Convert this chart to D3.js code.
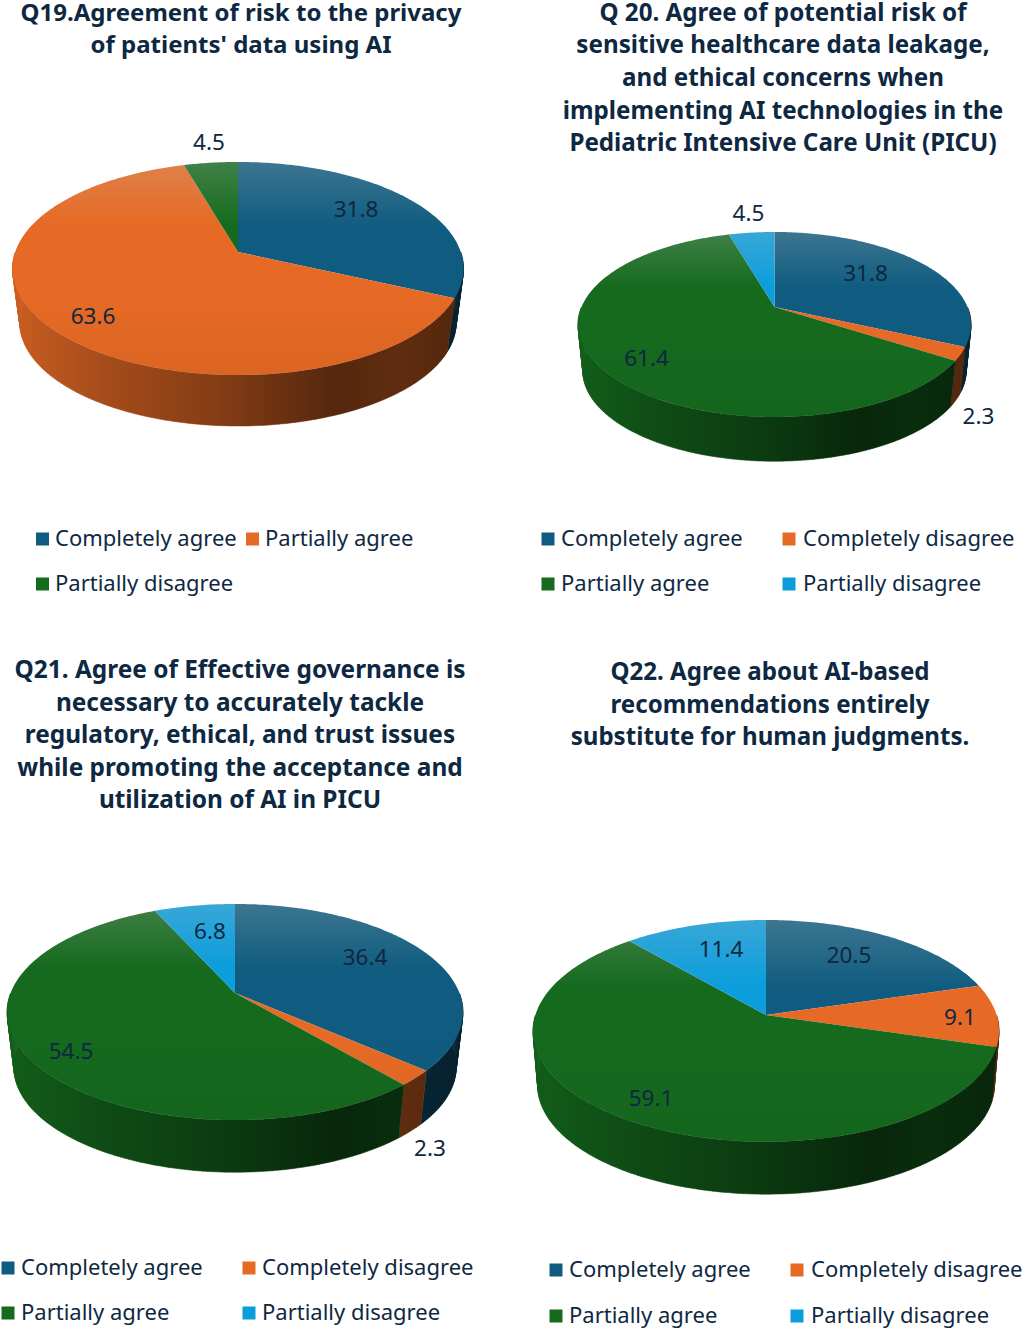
<!DOCTYPE html>
<html><head><meta charset="utf-8">
<script src="https://d3js.org/d3.v7.min.js"></script>
<style>html,body{margin:0;padding:0;background:#fff}svg{display:block}
text{font-family:"Noto Sans",sans-serif}</style></head><body>
<svg id="c" width="1026" height="1329"></svg>
<script>
// ---- data ----
const q19Categories = ["Completely agree","Partially agree","Partially disagree"];
const q19Values = [31.8,63.6,4.5];
const q20Categories = ["Completely agree","Completely disagree","Partially agree","Partially disagree"];
const q20Values = [31.8,2.3,61.4,4.5];
const q21Categories = ["Completely agree","Completely disagree","Partially agree","Partially disagree"];
const q21Values = [36.4,2.3,54.5,6.8];
const q22Categories = ["Completely agree","Completely disagree","Partially agree","Partially disagree"];
const q22Values = [20.5,9.1,59.1,11.4];
const q19Title = ["Q19.Agreement of risk to the privacy","of patients' data using AI"];
const q20Title = ["Q 20. Agree of potential risk of","sensitive healthcare data leakage,","and ethical concerns when","implementing AI technologies in the","Pediatric Intensive Care Unit (PICU)"];
const q21Title = ["Q21. Agree of Effective governance is","necessary to accurately tackle","regulatory, ethical, and trust issues","while promoting the acceptance and","utilization of AI in PICU"];
const q22Title = ["Q22. Agree about AI-based","recommendations entirely","substitute for human judgments."];

// ---- style ----
const colorOf = {"Completely agree":"#105c80","Completely disagree":"#e66a25","Partially agree":"#156a1e","Partially disagree":"#0b9ddc"};
const q19Colors = {"Completely agree":"#105c80","Partially agree":"#e66a25","Partially disagree":"#156a1e"};
const ink = "#0e2841";

// ---- layout ----
const charts = [
 {id:"q19",cats:q19Categories,vals:q19Values,title:q19Title,colors:q19Colors,
  cx:238,cy:252,A:222.8,B:104,k:.155,d:55,s:.967,titleSize:24,
  titleX:241,titleY:[12,44],
  labels:[[118,-43],[-145,64],[-29,-110]],
  legend:[[42.5,55,539],[252.5,265,539],[42.5,55,584]]},
 {id:"q20",cats:q20Categories,vals:q20Values,title:q20Title,colors:colorOf,
  cx:774.5,cy:307,A:193,B:89.2,k:.189,d:47,s:.975,titleSize:24.2,
  titleX:783,titleY:[12,44,77,110,142],
  labels:[[91,-34],[204,109],[-128,51],[-26,-94]],
  legend:[[548,561,539],[789,803,539],[548,561,584],[789,803,584]]},
 {id:"q21",cats:q21Categories,vals:q21Values,title:q21Title,colors:colorOf,
  cx:235,cy:993,A:224.4,B:104.7,k:.176,d:56,s:.97,titleSize:24.4,
  titleX:240,titleY:[669,702,734,767,799],
  labels:[[130,-36],[195,155],[-164,58],[-25,-62]],
  legend:[[8,21,1268],[249,262,1268],[8,21,1313],[249,262,1313]]},
 {id:"q22",cats:q22Categories,vals:q22Values,title:q22Title,colors:colorOf,
  cx:766,cy:1015,A:230.6,B:108.6,k:.143,d:55,s:.98,titleSize:24.1,
  titleX:770,titleY:[671,704,736],
  labels:[[83,-60],[194,2],[-115,83],[-45,-66]],
  legend:[[556,569,1270],[797,811,1270],[556,569,1316],[797,811,1316]]}
];

const svg = d3.select("#c");
const defs = svg.append("defs");
const pieGen = d3.pie().sort(null).value(d=>d).startAngle(0).endAngle(2*Math.PI);
const scaleRGB = (c,f)=>{const o=d3.rgb(c);return d3.rgb(o.r*f,o.g*f,o.b*f).formatHex();};
const line = d3.line();

charts.forEach(ch=>{
  // perspective projection of a disc onto the page
  const u2x = d3.scaleLinear().domain([-1,1]).range([-ch.A,ch.A]);
  const v2y = d3.scaleLinear().domain([-1,1]).range([ch.B,-ch.B]);
  const proj = (t,bottom=false)=>{
    const u=Math.sin(t), v=Math.cos(t), w=1+ch.k*v, s=bottom?ch.s:1;
    return [ch.cx+s*u2x(u)/w, ch.cy+(bottom?ch.d:0)+s*v2y(v)/w];
  };
  const arcs = pieGen(ch.vals);
  const top = proj(0)[1], bot = proj(Math.PI)[1];
  const L = ch.cx-ch.A*1.015, R = ch.cx+ch.A*1.015;
  const g = svg.append("g").attr("id",ch.id);

  const fillFor = {};
  ch.cats.forEach((c,i)=>{
    const col = ch.colors[c];
    const gid = ch.id+"t"+i, wid = ch.id+"w"+i;
    const lg = defs.append("linearGradient").attr("id",gid).attr("gradientUnits","userSpaceOnUse")
      .attr("x1",0).attr("x2",0).attr("y1",top).attr("y2",bot);
    lg.append("stop").attr("offset",0).attr("stop-color",d3.interpolateRgb(col,"#c8c8c8")(.24));
    lg.append("stop").attr("offset",.3).attr("stop-color",col);
    lg.append("stop").attr("offset",.62).attr("stop-color",col);
    lg.append("stop").attr("offset",1).attr("stop-color",scaleRGB(col,.95));
    const wg = defs.append("linearGradient").attr("id",wid).attr("gradientUnits","userSpaceOnUse")
      .attr("x1",L).attr("x2",R).attr("y1",0).attr("y2",0);
    [[0,.88],[.2,.72],[.45,.58],[.72,.37],[.85,.42],[1,.36]].forEach(([o,f])=>
      wg.append("stop").attr("offset",o).attr("stop-color",scaleRGB(col,f)));
    fillFor[i]={top:gid,wall:wid};
  });

  // side walls (front half only): ruled strips between the top rim and the bottom rim
  arcs.forEach(a=>{
    const a0=Math.max(a.startAngle,Math.PI/2), a1=Math.min(a.endAngle,1.5*Math.PI);
    if(a1<=a0) return;
    const n=Math.max(4,Math.round((a1-a0)*60));
    const ts=d3.range(0,n+1).map(i=>a0+(a1-a0)*i/n);
    let dStr="";
    for(let i=0;i<n;i++){
      dStr+=line([proj(ts[i]),proj(ts[i+1]),proj(ts[i+1],true),proj(ts[i],true)])+"Z";
    }
    const paint=`url(#${fillFor[a.index].wall})`;
    g.append("path").attr("d",dStr).attr("fill",paint).attr("stroke",paint).attr("stroke-width",.5);
  });
  // top faces
  arcs.forEach(a=>{
    const n=Math.max(24,Math.round((a.endAngle-a.startAngle)*60));
    const ts=d3.range(0,n+1).map(i=>a.startAngle+(a.endAngle-a.startAngle)*i/n);
    const pts=[[ch.cx,ch.cy],...ts.map(t=>proj(t))];
    g.append("path").attr("d",line(pts)+"Z").attr("fill",`url(#${fillFor[a.index].top})`);
  });
  // value labels
  ch.vals.forEach((v,i)=>{
    g.append("text").attr("x",ch.cx+ch.labels[i][0]).attr("y",ch.cy+ch.labels[i][1]-1)
      .attr("text-anchor","middle").attr("dominant-baseline","central")
      .attr("font-size",22.5).attr("fill",ink).text(v.toFixed(1));
  });
  // title
  ch.title.forEach((t,i)=>{
    g.append("text").attr("x",ch.titleX).attr("y",ch.titleY[i]-1)
      .attr("text-anchor","middle").attr("dominant-baseline","central")
      .attr("font-size",ch.titleSize).attr("font-weight",700).attr("fill",ink).text(t);
  });
  // legend
  ch.cats.forEach((c,i)=>{
    const [mx,tx,y]=ch.legend[i];
    g.append("rect").attr("x",mx-6.5).attr("y",y-6.5).attr("width",13).attr("height",13)
      .attr("fill",ch.colors[c]);
    g.append("text").attr("x",tx).attr("y",y-2).attr("dominant-baseline","central")
      .attr("font-size",22).attr("fill",ink).text(c);
  });
});
</script></body></html>
